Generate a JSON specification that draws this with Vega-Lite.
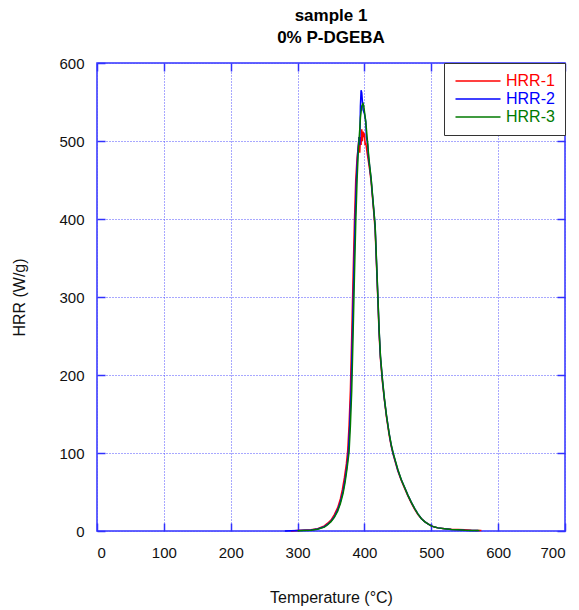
{
"$schema": "https://vega.github.io/schema/vega-lite/v6.json",
"width": 468, "height": 468,
"autosize": "none",
"padding": {"left": 97, "top": 63, "right": 14, "bottom": 79},
"background": "white",
"title": {"text": ["sample 1", "0% P-DGEBA"], "fontSize": 17, "font": "Liberation Sans", "fontWeight": "bold", "offset": 9, "lineHeight": 22, "anchor": "middle", "color": "black"},
"config": {"view": {"stroke": "#3030ff", "strokeWidth": 1.5}, "font": "Liberation Sans"},
"data": {"values": [
{"s":"HRR-1","t":290,"v":0},{"s":"HRR-1","t":300,"v":0.5},{"s":"HRR-1","t":320,"v":1.5},{"s":"HRR-1","t":330,"v":3},{"s":"HRR-1","t":340,"v":6.5},{"s":"HRR-1","t":345,"v":10},{"s":"HRR-1","t":350,"v":14},{"s":"HRR-1","t":355,"v":21},{"s":"HRR-1","t":360,"v":30},{"s":"HRR-1","t":364,"v":41},{"s":"HRR-1","t":367,"v":53},{"s":"HRR-1","t":370,"v":68},{"s":"HRR-1","t":373,"v":86},{"s":"HRR-1","t":375,"v":103},{"s":"HRR-1","t":377,"v":135},{"s":"HRR-1","t":379,"v":180},{"s":"HRR-1","t":381,"v":250},{"s":"HRR-1","t":383,"v":325},{"s":"HRR-1","t":385,"v":395},{"s":"HRR-1","t":387,"v":450},{"s":"HRR-1","t":389,"v":478},{"s":"HRR-1","t":391,"v":495},{"s":"HRR-1","t":392,"v":505},{"s":"HRR-1","t":393,"v":485},{"s":"HRR-1","t":394,"v":505},{"s":"HRR-1","t":395,"v":495},{"s":"HRR-1","t":396,"v":515},{"s":"HRR-1","t":397,"v":500},{"s":"HRR-1","t":398,"v":512},{"s":"HRR-1","t":399,"v":505},{"s":"HRR-1","t":400,"v":510},{"s":"HRR-1","t":401,"v":495},{"s":"HRR-1","t":402,"v":498},{"s":"HRR-1","t":404,"v":485},{"s":"HRR-1","t":406,"v":474},{"s":"HRR-1","t":408,"v":462},{"s":"HRR-1","t":410,"v":448},{"s":"HRR-1","t":412,"v":428},{"s":"HRR-1","t":414,"v":408},{"s":"HRR-1","t":416,"v":386},{"s":"HRR-1","t":418,"v":342},{"s":"HRR-1","t":420,"v":298},{"s":"HRR-1","t":422,"v":252},{"s":"HRR-1","t":424,"v":220},{"s":"HRR-1","t":427,"v":190},{"s":"HRR-1","t":430,"v":167},{"s":"HRR-1","t":433,"v":146},{"s":"HRR-1","t":437,"v":123},{"s":"HRR-1","t":440,"v":109},{"s":"HRR-1","t":443,"v":98},{"s":"HRR-1","t":447,"v":86},{"s":"HRR-1","t":450,"v":77},{"s":"HRR-1","t":455,"v":65},{"s":"HRR-1","t":460,"v":55},{"s":"HRR-1","t":465,"v":45},{"s":"HRR-1","t":470,"v":36},{"s":"HRR-1","t":475,"v":28},{"s":"HRR-1","t":480,"v":21},{"s":"HRR-1","t":485,"v":16},{"s":"HRR-1","t":490,"v":12},{"s":"HRR-1","t":495,"v":9},{"s":"HRR-1","t":500,"v":6.5},{"s":"HRR-1","t":505,"v":5},{"s":"HRR-1","t":510,"v":4},{"s":"HRR-1","t":520,"v":3},{"s":"HRR-1","t":530,"v":2.4},{"s":"HRR-1","t":540,"v":2},{"s":"HRR-1","t":550,"v":1.5},{"s":"HRR-1","t":560,"v":1},{"s":"HRR-1","t":575,"v":0.8},
{"s":"HRR-2","t":281,"v":0},{"s":"HRR-2","t":300,"v":0.5},{"s":"HRR-2","t":320,"v":1.2},{"s":"HRR-2","t":330,"v":2.5},{"s":"HRR-2","t":340,"v":5.5},{"s":"HRR-2","t":345,"v":8.5},{"s":"HRR-2","t":350,"v":12.5},{"s":"HRR-2","t":355,"v":18.5},{"s":"HRR-2","t":360,"v":27},{"s":"HRR-2","t":364,"v":37},{"s":"HRR-2","t":368,"v":51},{"s":"HRR-2","t":371,"v":66},{"s":"HRR-2","t":374,"v":84},{"s":"HRR-2","t":376,"v":101},{"s":"HRR-2","t":378,"v":135},{"s":"HRR-2","t":380,"v":180},{"s":"HRR-2","t":382,"v":250},{"s":"HRR-2","t":384,"v":325},{"s":"HRR-2","t":386,"v":395},{"s":"HRR-2","t":388,"v":450},{"s":"HRR-2","t":390,"v":485},{"s":"HRR-2","t":392,"v":505},{"s":"HRR-2","t":393,"v":495},{"s":"HRR-2","t":394,"v":545},{"s":"HRR-2","t":395,"v":565},{"s":"HRR-2","t":396,"v":562},{"s":"HRR-2","t":397,"v":550},{"s":"HRR-2","t":398,"v":540},{"s":"HRR-2","t":400,"v":535},{"s":"HRR-2","t":402,"v":525},{"s":"HRR-2","t":403,"v":505},{"s":"HRR-2","t":405,"v":495},{"s":"HRR-2","t":406,"v":480},{"s":"HRR-2","t":408,"v":466},{"s":"HRR-2","t":410,"v":451},{"s":"HRR-2","t":412,"v":431},{"s":"HRR-2","t":414,"v":411},{"s":"HRR-2","t":416,"v":391},{"s":"HRR-2","t":418,"v":346},{"s":"HRR-2","t":420,"v":302},{"s":"HRR-2","t":422,"v":256},{"s":"HRR-2","t":424,"v":223},{"s":"HRR-2","t":427,"v":193},{"s":"HRR-2","t":430,"v":168},{"s":"HRR-2","t":433,"v":148},{"s":"HRR-2","t":437,"v":125},{"s":"HRR-2","t":440,"v":110},{"s":"HRR-2","t":443,"v":99},{"s":"HRR-2","t":447,"v":87},{"s":"HRR-2","t":450,"v":78},{"s":"HRR-2","t":455,"v":66},{"s":"HRR-2","t":460,"v":56},{"s":"HRR-2","t":465,"v":46},{"s":"HRR-2","t":470,"v":37},{"s":"HRR-2","t":475,"v":29},{"s":"HRR-2","t":480,"v":22},{"s":"HRR-2","t":485,"v":16},{"s":"HRR-2","t":490,"v":12},{"s":"HRR-2","t":495,"v":9},{"s":"HRR-2","t":500,"v":6.5},{"s":"HRR-2","t":505,"v":5},{"s":"HRR-2","t":510,"v":4},{"s":"HRR-2","t":520,"v":3},{"s":"HRR-2","t":530,"v":2},{"s":"HRR-2","t":540,"v":1.5},{"s":"HRR-2","t":550,"v":1},{"s":"HRR-2","t":560,"v":0.8},{"s":"HRR-2","t":570,"v":0.6},
{"s":"HRR-3","t":300,"v":0.3},{"s":"HRR-3","t":320,"v":1},{"s":"HRR-3","t":330,"v":2.2},{"s":"HRR-3","t":340,"v":5},{"s":"HRR-3","t":345,"v":8},{"s":"HRR-3","t":350,"v":12},{"s":"HRR-3","t":355,"v":17.5},{"s":"HRR-3","t":360,"v":25.5},{"s":"HRR-3","t":364,"v":35},{"s":"HRR-3","t":368,"v":48},{"s":"HRR-3","t":371,"v":62},{"s":"HRR-3","t":374,"v":80},{"s":"HRR-3","t":377,"v":101},{"s":"HRR-3","t":379,"v":135},{"s":"HRR-3","t":381,"v":180},{"s":"HRR-3","t":383,"v":250},{"s":"HRR-3","t":385,"v":325},{"s":"HRR-3","t":387,"v":395},{"s":"HRR-3","t":389,"v":450},{"s":"HRR-3","t":391,"v":490},{"s":"HRR-3","t":393,"v":515},{"s":"HRR-3","t":394,"v":530},{"s":"HRR-3","t":396,"v":545},{"s":"HRR-3","t":398,"v":548},{"s":"HRR-3","t":399,"v":545},{"s":"HRR-3","t":400,"v":538},{"s":"HRR-3","t":402,"v":525},{"s":"HRR-3","t":404,"v":505},{"s":"HRR-3","t":406,"v":485},{"s":"HRR-3","t":408,"v":467},{"s":"HRR-3","t":410,"v":452},{"s":"HRR-3","t":412,"v":432},{"s":"HRR-3","t":414,"v":412},{"s":"HRR-3","t":416,"v":392},{"s":"HRR-3","t":418,"v":348},{"s":"HRR-3","t":420,"v":304},{"s":"HRR-3","t":422,"v":258},{"s":"HRR-3","t":424,"v":224},{"s":"HRR-3","t":427,"v":194},{"s":"HRR-3","t":430,"v":169},{"s":"HRR-3","t":433,"v":148},{"s":"HRR-3","t":437,"v":125},{"s":"HRR-3","t":440,"v":111},{"s":"HRR-3","t":443,"v":100},{"s":"HRR-3","t":447,"v":88},{"s":"HRR-3","t":450,"v":79},{"s":"HRR-3","t":455,"v":66},{"s":"HRR-3","t":460,"v":56},{"s":"HRR-3","t":465,"v":46},{"s":"HRR-3","t":470,"v":37},{"s":"HRR-3","t":475,"v":29},{"s":"HRR-3","t":480,"v":22},{"s":"HRR-3","t":485,"v":16},{"s":"HRR-3","t":490,"v":12},{"s":"HRR-3","t":495,"v":9},{"s":"HRR-3","t":500,"v":6.5},{"s":"HRR-3","t":505,"v":5},{"s":"HRR-3","t":510,"v":4},{"s":"HRR-3","t":520,"v":3},{"s":"HRR-3","t":530,"v":2},{"s":"HRR-3","t":540,"v":1.5},{"s":"HRR-3","t":550,"v":1},{"s":"HRR-3","t":560,"v":0.7},{"s":"HRR-3","t":572,"v":0.5}
]},
"layer": [
{"mark": {"type": "line", "strokeWidth": 1.5},
 "encoding": {
  "x": {"field": "t", "type": "quantitative", "scale": {"domain": [0, 700], "nice": false},
        "axis": {"orient": "bottom", "values": [0,100,200,300,400,500,600,700], "format": "d", "tickSize": -8, "tickColor": "#3030ff", "tickWidth": 1.5, "domain": false, "grid": true, "gridColor": "#5050ff", "gridDash": [1, 2], "gridWidth": 1, "gridOpacity": 1, "labelFontSize": 15, "labelColor": "#111", "labelPadding": 22, "labelFont": "Liberation Sans", "title": "Temperature (°C)", "titleFont": "Liberation Sans", "titleFontSize": 16, "titleFontWeight": "normal", "titleColor": "#111", "titlePadding": 29}},
  "y": {"field": "v", "type": "quantitative", "scale": {"domain": [0, 600], "nice": false},
        "axis": {"orient": "left", "values": [0,100,200,300,400,500,600], "format": "d", "tickSize": -8, "tickColor": "#3030ff", "tickWidth": 1.5, "domain": false, "grid": true, "gridColor": "#5050ff", "gridDash": [1, 2], "gridWidth": 1, "gridOpacity": 1, "labelFontSize": 15, "labelColor": "#111", "labelPadding": 21, "labelFont": "Liberation Sans", "title": "HRR (W/g)", "titleFont": "Liberation Sans", "titleFontSize": 16, "titleFontWeight": "normal", "titleColor": "#111", "titlePadding": 31}},
  "color": {"field": "s", "type": "nominal", "scale": {"domain": ["HRR-1", "HRR-2", "HRR-3"], "range": ["#ff0000", "#0000ff", "#007a00"]},
        "legend": {"orient": "top-right", "offset": 0, "title": null, "padding": 10, "strokeColor": "#333", "fillColor": "white", "symbolType": "M-3.75,0L3.75,0", "symbolSize": 144, "symbolStrokeWidth": 1.5, "symbolOffset": 16, "labelFontSize": 16, "labelFont": "Liberation Sans", "labelOffset": 20, "rowPadding": 2,
                   "encode": {"labels": {"update": {"fill": {"scale": "color", "field": "value"}}}}}}
 }},
{"mark": {"type": "line", "opacity": 0},
 "encoding": {
  "x": {"field": "t", "type": "quantitative", "axis": {"orient": "top", "values": [0,100,200,300,400,500,600,700], "tickSize": -8, "tickColor": "#3030ff", "tickWidth": 1.5, "domain": false, "grid": false, "labels": false, "title": null}},
  "y": {"field": "v", "type": "quantitative", "axis": {"orient": "right", "values": [0,100,200,300,400,500,600], "tickSize": -8, "tickColor": "#3030ff", "tickWidth": 1.5, "domain": false, "grid": false, "labels": false, "title": null}},
  "detail": {"field": "s"}
 }}
],
"resolve": {"axis": {"x": "independent", "y": "independent"}}
}
